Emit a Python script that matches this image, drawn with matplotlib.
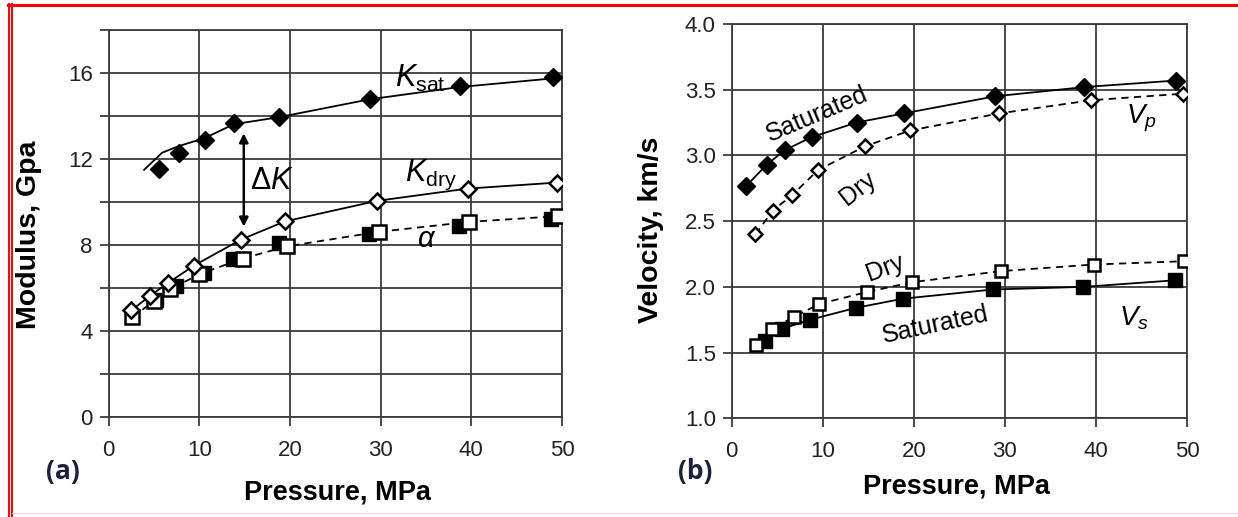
import matplotlib
matplotlib.use('Agg')
import matplotlib.pyplot as plt
from matplotlib.lines import Line2D
import numpy as np

plt.rcParams['font.family'] = ['Liberation Sans', 'DejaVu Sans']
plt.rcParams['mathtext.fontset'] = 'custom'
plt.rcParams['mathtext.rm'] = 'Liberation Sans'
plt.rcParams['mathtext.it'] = 'Liberation Sans:italic'

# ---- (a) moduli vs pressure ----
ksat_p = [5.6, 7.7, 10.6, 13.8, 18.8, 28.8, 38.7, 49.0]
ksat = [11.56, 12.27, 12.87, 13.69, 13.95, 14.8, 15.39, 15.8]
ksat_fit_p = [3.9, 5.9, 7.7, 10.6, 13.8, 18.8, 28.8, 38.7, 49.0]
ksat_fit = [11.5, 12.3, 12.6, 12.98, 13.62, 13.95, 14.78, 15.35, 15.75]

kdry_p = [2.5, 4.6, 6.5, 9.4, 14.6, 19.4, 29.6, 39.6, 49.5]
kdry = [4.97, 5.66, 6.23, 7.05, 8.26, 9.1, 10.06, 10.63, 10.91]

alpha_sat_p = [5.2, 7.4, 10.5, 13.7, 18.8, 28.7, 38.6, 48.8]
alpha_sat = [5.45, 6.1, 6.7, 7.38, 8.1, 8.5, 8.9, 9.2]
alpha_dry_p = [2.6, 5.0, 6.8, 10.0, 14.8, 19.7, 29.8, 39.7, 49.6]
alpha_dry = [4.65, 5.4, 5.95, 6.65, 7.38, 7.95, 8.62, 9.08, 9.35]

# ---- (b) velocities vs pressure ----
vp_sat_p = [1.6, 3.85, 5.8, 8.8, 13.7, 18.9, 28.95, 38.7, 48.8]
vp_sat = [2.77, 2.93, 3.04, 3.14, 3.25, 3.32, 3.45, 3.52, 3.57]
vp_dry_p = [2.6, 4.5, 6.65, 9.5, 14.65, 19.6, 29.4, 39.5, 49.6]
vp_dry = [2.40, 2.58, 2.70, 2.89, 3.07, 3.19, 3.32, 3.42, 3.47]

vs_sat_p = [3.6, 5.5, 8.6, 13.6, 18.8, 28.7, 38.6, 48.7]
vs_sat = [1.59, 1.68, 1.75, 1.84, 1.91, 1.98, 2.0, 2.05]
vs_dry_p = [2.7, 4.4, 6.8, 9.6, 14.8, 19.75, 29.6, 39.75, 49.7]
vs_dry = [1.557, 1.68, 1.77, 1.87, 1.96, 2.035, 2.12, 2.17, 2.195]

GRID = '#3c3c3c'
W, H = 1238, 517

fig = plt.figure(figsize=(W / 100, H / 100), dpi=100)


def style_axes(ax, yticks, ylabels, ylim):
    ax.set_xlim(0, 50)
    ax.set_ylim(*ylim)
    ax.set_xticks([0, 10, 20, 30, 40, 50])
    ax.set_yticks(yticks)
    ax.set_yticklabels(ylabels)
    ax.grid(True, color=GRID, linewidth=1.3)
    ax.set_axisbelow(True)
    for s in ax.spines.values():
        s.set_color(GRID)
        s.set_linewidth(1.3)
    ax.tick_params(axis='both', direction='out', length=6.5, width=1.3,
                   color=GRID, labelsize=16, labelcolor='#222222')
    ax.tick_params(axis='x', pad=10)
    ax.tick_params(axis='y', pad=5)


def place_labels(ax, xl, yl):
    ax.xaxis.set_label_coords(*xl)
    ax.yaxis.set_label_coords(*yl)
    for lab in (ax.xaxis.label, ax.yaxis.label):
        lab.set_va('center')
        lab.set_ha('center')


# left panel
ax1 = fig.add_axes([108.7 / W, 1 - 417.3 / H, (562 - 108.7) / W, (417.3 - 30) / H])
style_axes(ax1, np.arange(0, 19, 2),
           ['0', '', '4', '', '8', '', '12', '', '16', ''], (0, 18))

ax1.plot(ksat_fit_p, ksat_fit, color='black', lw=1.3, zorder=3)
ax1.plot(ksat_p, ksat, 'D', color='black', ms=9.5, zorder=4)
ax1.plot(kdry_p, kdry, '-', color='black', lw=1.3, zorder=3)
ax1.plot(kdry_p, kdry, 'D', mfc='white', mec='black', mew=1.8, ms=8, zorder=5)
ax1.plot(alpha_dry_p, alpha_dry, '--', color='black', lw=1.3, dashes=(4, 3), zorder=3)
ax1.plot(alpha_sat_p, alpha_sat, 's', color='black', ms=10.5, zorder=4)
ax1.plot(alpha_dry_p, alpha_dry, 's', mfc='white', mec='black', mew=1.8, ms=9.5, zorder=4)

ax1.annotate('', xy=(14.9, 8.86), xytext=(14.9, 13.2),
             arrowprops=dict(arrowstyle='<|-|>', color='black', lw=1.8,
                             mutation_scale=13, shrinkA=0, shrinkB=0), zorder=6)
ax1.text(15.6, 11.0, r'$\Delta K$', fontsize=22, va='center', ha='left')
ax1.text(31.6, 15.75, r'$K_{\mathrm{sat}}$', fontsize=22, va='center', ha='left')
ax1.text(32.7, 11.25, r'$K_{\mathrm{dry}}$', fontsize=22, va='center', ha='left')
ax1.text(35.1, 8.3, r'$\alpha$', fontsize=21, va='center', ha='center')

ax1.set_xlabel('Pressure, MPa', fontsize=19.5, fontweight='bold')
ax1.set_ylabel('Modulus, Gpa', fontsize=20.5, fontweight='bold')
place_labels(ax1, (0.5036, -0.195), (-0.176, 0.471))

# right panel
ax2 = fig.add_axes([731.8 / W, 1 - 418.3 / H, (1187 - 731.8) / W, (418.3 - 24) / H])
style_axes(ax2, np.arange(1.0, 4.01, 0.5),
           ['1.0', '1.5', '2.0', '2.5', '3.0', '3.5', '4.0'], (1.0, 4.0))

ax2.plot(vp_sat_p, vp_sat, '-D', color='black', lw=1.3, ms=9.5, zorder=4)
ax2.plot(vp_dry_p, vp_dry, '--', color='black', lw=1.3, dashes=(4, 3), zorder=3)
ax2.plot(vp_dry_p, vp_dry, 'D', mfc='white', mec='black', mew=1.8, ms=7.5, zorder=5)
ax2.plot(vs_sat_p, vs_sat, '-s', color='black', lw=1.3, ms=10.5, zorder=4)
ax2.plot(vs_dry_p, vs_dry, '--', color='black', lw=1.3, dashes=(4, 3), zorder=3)
ax2.plot(vs_dry_p, vs_dry, 's', mfc='white', mec='black', mew=1.8, ms=9, zorder=5)

ax2.text(9.4, 3.31, 'Saturated', fontsize=18, rotation=23, ha='center', va='center')
ax2.text(13.9, 2.75, 'Dry', fontsize=18, rotation=38, ha='center', va='center')
ax2.text(45.0, 3.28, r'$V_p$', fontsize=20, ha='center', va='center')
ax2.text(16.9, 2.14, 'Dry', fontsize=18, rotation=20, ha='center', va='center')
ax2.text(22.3, 1.71, 'Saturated', fontsize=18, rotation=12, ha='center', va='center')
ax2.text(44.2, 1.76, r'$V_s$', fontsize=20, ha='center', va='center')

ax2.set_xlabel('Pressure, MPa', fontsize=19.5, fontweight='bold')
ax2.set_ylabel('Velocity, km/s', fontsize=20.5, fontweight='bold')
place_labels(ax2, (0.4925, -0.174), (-0.1775, 0.478))

# panel tags
fig.text(63 / W, 1 - 471.7 / H, '(a)', fontsize=19, fontweight='bold',
         family=['Open Sans', 'DejaVu Sans'], color='#1a2040', ha='center', va='center')
fig.text(695 / W, 1 - 471.7 / H, '(b)', fontsize=19, fontweight='bold',
         family=['Open Sans', 'DejaVu Sans'], color='#1a2040', ha='center', va='center')

# red frame of the screenshot
fig.add_artist(Line2D([8 / W, 1], [1 - 4.6 / H, 1 - 4.6 / H], transform=fig.transFigure,
                      color='red', lw=2.2))
fig.add_artist(Line2D([9 / W, 9 / W], [0, 1 - 3.5 / H], transform=fig.transFigure,
                      color='red', lw=1.4))
fig.add_artist(Line2D([11.7 / W, 11.7 / W], [0, 1 - 3.5 / H], transform=fig.transFigure,
                      color='red', lw=1.4))
fig.add_artist(Line2D([12 / W, 1], [1 - 512.7 / H, 1 - 512.7 / H], transform=fig.transFigure,
                      color='#f2cccc', lw=0.8))

plt.savefig('out.png', dpi=100)
